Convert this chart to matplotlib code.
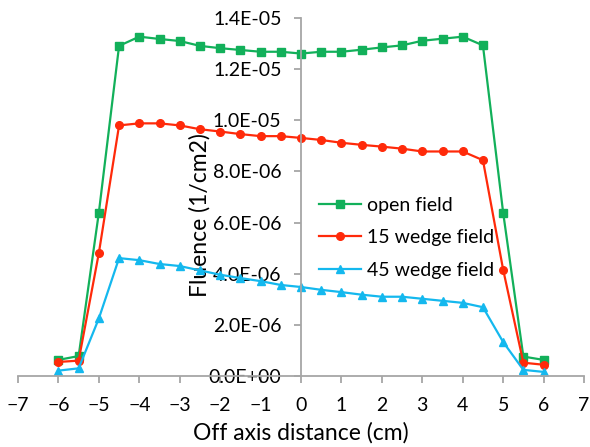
import numpy as np
import matplotlib
matplotlib.use("Agg")
from matplotlib import pyplot as plt
from matplotlib.ticker import FuncFormatter, MultipleLocator

plt.rcParams['font.family'] = ['Lato', 'DejaVu Sans']

distance = [-6, -5.5, -5, -4.5, -4, -3.5, -3, -2.5, -2, -1.5, -1, -0.5, 0,
            0.5, 1, 1.5, 2, 2.5, 3, 3.5, 4, 4.5, 5, 5.5, 6]

open_field = [0.63, 0.78, 6.39, 12.91, 13.27, 13.18, 13.10, 12.91, 12.82, 12.75,
              12.68, 12.68, 12.61, 12.68, 12.68, 12.76, 12.85, 12.93, 13.11, 13.19,
              13.27, 12.93, 6.39, 0.76, 0.63]
wedge15 = [0.55, 0.60, 4.81, 9.80, 9.88, 9.88, 9.80, 9.65, 9.56, 9.46,
           9.38, 9.38, 9.31, 9.23, 9.12, 9.04, 8.97, 8.89, 8.78, 8.78,
           8.78, 8.44, 4.16, 0.52, 0.44]
wedge45 = [0.21, 0.30, 2.25, 4.61, 4.53, 4.38, 4.30, 4.13, 3.96, 3.83,
           3.71, 3.56, 3.48, 3.37, 3.28, 3.18, 3.10, 3.10, 3.02, 2.94,
           2.86, 2.69, 1.33, 0.24, 0.16]

scale = 1e-6

fig = plt.figure(figsize=(5.9, 4.47), dpi=100)
ax = fig.add_axes([18 / 590, 1 - 376 / 447, 566 / 590, 358 / 447])

ax.plot(distance, np.array(open_field) * scale, color='#12B05A', lw=1.6,
        marker='s', ms=5.5, label='open field')
ax.plot(distance, np.array(wedge15) * scale, color='#FF2A0A', lw=1.6,
        marker='o', ms=5.5, label='15 wedge field')
ax.plot(distance, np.array(wedge45) * scale, color='#14B8EE', lw=1.6,
        marker='^', ms=5.5, label='45 wedge field')

ax.set_xlim(-7, 7)
ax.set_ylim(0, 1.4e-5)
ax.xaxis.set_major_locator(MultipleLocator(1))
ax.yaxis.set_major_locator(MultipleLocator(2e-6))
ax.yaxis.set_major_formatter(FuncFormatter(lambda v, p: f"{v:.1E}"))

for s in ['top', 'right']:
    ax.spines[s].set_visible(False)
ax.spines['left'].set_position(('data', 0))
for s in ['left', 'bottom']:
    ax.spines[s].set_color('#A6A6A6')
    ax.spines[s].set_linewidth(1.3)
ax.tick_params(axis='both', colors='#A6A6A6', labelcolor='black',
               labelsize=14, width=1.3, length=5, direction='out')
ax.tick_params(axis='x', pad=10)
ax.tick_params(axis='y', pad=9)

ax.set_xlabel('Off axis distance (cm)', fontsize=16.5, labelpad=6)
ax.set_ylabel('Fluence (1/cm2)', fontsize=16.5)
ax.yaxis.set_label_coords(0.341, 0.45)

ax.legend(loc='upper left', bbox_to_anchor=(0.5, 0.55), frameon=False,
          fontsize=14, handlelength=2.2, handletextpad=0.3, labelspacing=0.8)

fig.savefig('out.png', dpi=100)
